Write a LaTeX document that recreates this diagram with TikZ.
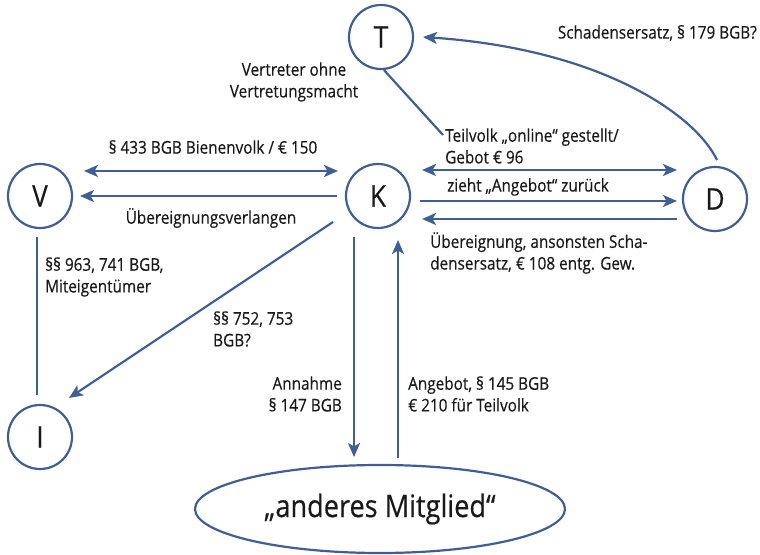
\documentclass[tikz,border=0pt]{standalone}
\usepackage{fontspec}
\setmainfont{Open Sans}[FakeStretch=0.875,FakeBold=0.35]
\usetikzlibrary{arrows.meta,calc,shapes.geometric}
\definecolor{lineblue}{RGB}{64,94,150}
\definecolor{ink}{RGB}{25,25,25}

\begin{document}
\begin{tikzpicture}[x=1pt,y=1pt,
  party/.style={circle,draw=lineblue,line width=2.2pt,minimum size=64pt,
    inner sep=0pt,text=ink,font=\fontsize{30}{30}\selectfont},
  member/.style={ellipse,draw=lineblue,line width=2.2pt,minimum width=370pt,
    minimum height=88pt,inner sep=0pt,text=ink,font=\fontsize{31}{32}\selectfont},
  lbl/.style={inner sep=0pt,text=ink,font=\fontsize{17.5}{21.7}\selectfont},
  conn/.style={draw=lineblue,line width=2.2pt},
  tip/.tip={Stealth[length=14pt,width=12pt,inset=3.5pt]},
  arr/.style={conn,-tip},
  arrboth/.style={conn,tip-tip}]
\useasboundingbox (0,0) rectangle (760,554);

% parties
\node[party] (T) at (381,517) {T};
\node[party] (V) at (40,358) {V};
\node[party] (K) at (378,358) {K};
\node[party] (D) at (715,355) {D};
\node[party] (I) at (40,117) {I};
\node[member] (M) at (380,45) {„anderes Mitglied“};

% V -- K
\draw[arrboth] ($(V)+(44,25)$) -- ($(K)+(-40,25)$);
\draw[arr] ($(K)+(-41,0)$) -- ($(V)+(40,0)$);

% K -- D
\draw[arrboth] ($(K)+(44,26)$) -- ($(D)+(-38,29)$);
\draw[arr] ($(K)+(42,-5)$) -- ($(D)+(-38,-2)$);
\draw[arr] ($(D)+(-38,-20)$) -- ($(K)+(44,-23)$);

% D -> T
\draw[arr] ($(D)+(2,39)$) .. controls (695,440) and (600,505) .. ($(T)+(42,0)$);

% T to the offer label
\coordinate (tl) at (443,419);
\draw[conn] (T.-85) -- (tl);

% V -- I, K -> I
\draw[conn] ($(V)+(-3,-41)$) -- ($(I)+(-3,42)$);
\draw[arr] ($(K)+(-45,-26)$) -- ($(I)+(29,39)$);

% K -- other member
\draw[arr] ($(K)+(-24,-41)$) -- ($(M)+(-26,52)$);
\draw[arr] ($(M)+(18,51)$) -- ($(K)+(20,-44)$);

% labels
\node[lbl,anchor=east] (l1) at (757,521) {Schadensersatz, § 179 BGB?};
\node[lbl,align=center] (l2) at (294,472) {Vertreter ohne\\Vertretungsmacht};
\node[lbl,align=left,anchor=west] (l3) at (445,408) {Teilvolk „online“ gestellt/\\Gebot € 96};
\node[lbl,anchor=west] (l4) at (447,367) {zieht „Angebot“ zurück};
\node[lbl,align=left,anchor=west] (l5) at (430,301) {Übereignung, ansonsten Scha-\\densersatz, € 108 entg. Gew.};
\node[lbl] (l6) at (213,407) {§ 433 BGB Bienenvolk / € 150};
\node[lbl] (l7) at (211,336) {Übereignungsverlangen};
\node[lbl,align=left,anchor=west] (l8) at (45,277) {§§ 963, 741 BGB,\\Miteigentümer};
\node[lbl,align=left,anchor=west] (l9) at (213,225) {§§ 752, 753\\BGB?};
\node[lbl,align=right,anchor=east] (l10) at (342,160) {Annahme\\§ 147 BGB};
\node[lbl,align=left,anchor=west] (l11) at (408,160) {Angebot, § 145 BGB\\€ 210 für Teilvolk};
\end{tikzpicture}
\end{document}
